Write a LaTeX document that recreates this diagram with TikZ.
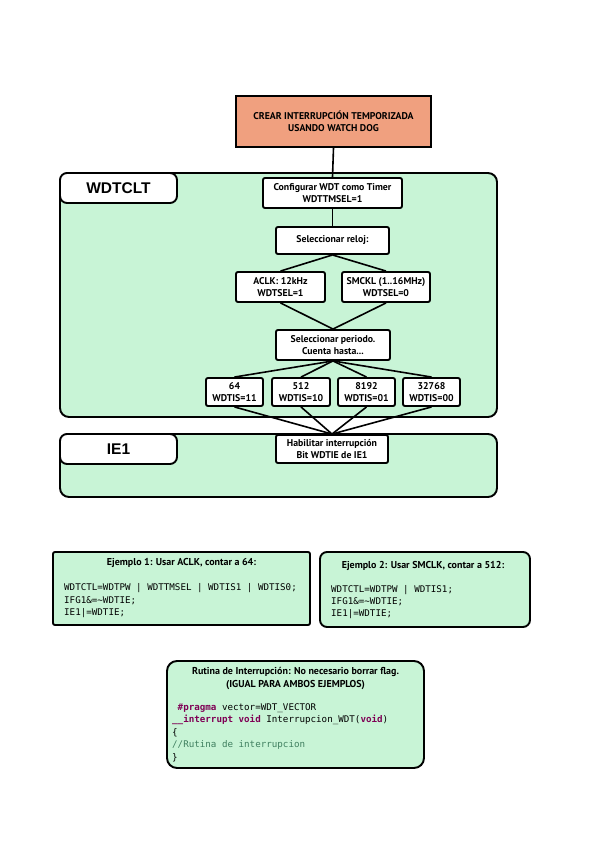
\documentclass[tikz,border=0pt]{standalone}
\usepackage{fontspec}
\setmainfont{PT Sans}
\setmonofont{DejaVu Sans Mono}
\newfontfamily\tabfont{Liberation Sans}
\definecolor{mint}{HTML}{C8F4D6}
\definecolor{salmon}{HTML}{F0A07F}
\definecolor{kw}{HTML}{7F0055}
\definecolor{cmt}{HTML}{3F7F5F}
\newcommand{\kwd}[1]{\textcolor{kw}{\bfseries #1}}
\tikzset{
 ln/.style={line width=1.6pt, black},
 pbox/.style={draw, line width=1.9pt, fill=white, rounded corners=2pt, align=center, inner sep=0pt, font=\fontsize{9.8}{12.5}\selectfont\bfseries},
 cont/.style={draw, line width=1.9pt, fill=mint, rounded corners=9pt, inner sep=0pt},
 tabbox/.style={draw, line width=1.9pt, fill=white, rounded corners=7pt, inner sep=0pt, font=\fontsize{15.5}{17}\selectfont\tabfont\bfseries},
 codebox/.style={draw, line width=1.9pt, fill=mint, inner sep=0pt},
 code/.style={anchor=base west, inner sep=0pt, font=\fontsize{9.2}{10}\selectfont\ttfamily},
 ttl/.style={anchor=base, inner sep=0pt, font=\fontsize{10}{12}\selectfont\bfseries},
}
\begin{document}
\begin{tikzpicture}[x=1pt,y=-1pt]
\useasboundingbox[fill=white] (0,0) rectangle (599,848);
% containers
\node[cont, minimum width=437, minimum height=244] (wdt) at (278.5,295) {};
\node[tabbox, minimum width=117, minimum height=30] (tabw) at (118.5,188) {WDTCLT};
\node[cont, minimum width=437, minimum height=63] (ie1) at (278.5,465.5) {};
\node[tabbox, minimum width=117, minimum height=30] (tabi) at (118.5,449) {IE1};
% flow boxes
\node[pbox, fill=salmon, rounded corners=0pt, minimum width=195, minimum height=51] (top) at (333.5,121.5) {CREAR INTERRUPCIÓN TEMPORIZADA\\USANDO WATCH DOG};
\node[pbox, minimum width=139, minimum height=30] (cfg) at (332.5,193) {Configurar WDT como Timer\\WDTTMSEL=1};
\node[pbox, minimum width=113, minimum height=27] (rel) at (332.5,240.5) {Seleccionar reloj:};
\node[pbox, minimum width=89, minimum height=30] (aclk) at (280.5,287) {ACLK: 12kHz\\WDTSEL=1};
\node[pbox, minimum width=88, minimum height=30] (smk) at (386,287) {SMCKL (1..16MHz)\\WDTSEL=0};
\node[pbox, minimum width=114, minimum height=30] (per) at (333,345) {Seleccionar periodo.\\Cuenta hasta...};
\node[pbox, minimum width=57, minimum height=28] (n64) at (234.5,392) {64\\WDTIS=11};
\node[pbox, minimum width=58, minimum height=28] (n512) at (301,392) {512\\WDTIS=10};
\node[pbox, minimum width=57, minimum height=28] (n8192) at (366.5,392) {8192\\WDTIS=01};
\node[pbox, minimum width=57, minimum height=28] (n32768) at (431.5,392) {32768\\WDTIS=00};
\node[pbox, minimum width=112, minimum height=28] (hab) at (332,449) {Habilitar interrupción\\Bit WDTIE de IE1};
% connectors
\draw[ln] (top.south) -- (cfg.north);
\draw[ln] (cfg.south) -- (rel.north);
\draw[ln] (rel.south) -- (aclk.north);
\draw[ln] (rel.south) -- (smk.north);
\draw[ln] (aclk.south) -- (per.north);
\draw[ln] (smk.south) -- (per.north);
\foreach \n in {n64,n512,n8192,n32768}{
 \draw[ln] (per.south) -- (\n.north);
 \draw[ln] (\n.south) -- (hab.north);
}
% example boxes
\node[codebox, rounded corners=2pt, minimum width=257, minimum height=73] (ej1) at (181.5,588.5) {};
\node[ttl] (ej1t) at (181.5,565) {Ejemplo 1: Usar ACLK, contar a 64:};
\node[code] (ej1a) at (64,590) {WDTCTL=WDTPW | WDTTMSEL | WDTIS1 | WDTIS0;};
\node[code] (ej1b) at (64,603) {IFG1\&=\textasciitilde WDTIE;};
\node[code] (ej1c) at (64,615) {IE1|=WDTIE;};
\node[codebox, rounded corners=7pt, minimum width=210, minimum height=75] (ej2) at (425,589.5) {};
\node[ttl] (ej2t) at (423,568) {Ejemplo 2: Usar SMCLK, contar a 512:};
\node[code] (ej2a) at (331,592) {WDTCTL=WDTPW | WDTIS1;};
\node[code] (ej2b) at (331,604) {IFG1\&=\textasciitilde WDTIE;};
\node[code] (ej2c) at (331,616) {IE1|=WDTIE;};
% interrupt routine
\node[codebox, rounded corners=10pt, minimum width=257, minimum height=107] (rut) at (295.5,714.5) {};
\node[ttl] (rutt1) at (295.5,674) {Rutina de Interrupción: No necesario borrar flag.};
\node[ttl] (rutt2) at (295.5,687) {(IGUAL PARA AMBOS EJEMPLOS)};
\node[code] (r1) at (172,710) {\ \kwd{\#pragma} vector=WDT\_VECTOR};
\node[code] (r2) at (172,722) {\kwd{\_\_interrupt} \kwd{void} Interrupcion\_WDT(\kwd{void})};
\node[code] (r3) at (172,735) {\{};
\node[code] (r4) at (172,747) {\textcolor{cmt}{//Rutina de interrupcion}};
\node[code] (r5) at (172,760) {\}};
\end{tikzpicture}
\end{document}
